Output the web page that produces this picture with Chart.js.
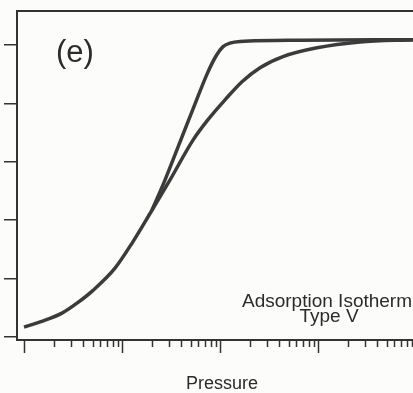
<!DOCTYPE html>
<html>
<head>
<meta charset="utf-8">
<script src="https://cdn.jsdelivr.net/npm/chart.js@4.4.0/dist/chart.umd.min.js"></script>
<style>
  html, body { margin: 0; padding: 0; background: #fcfcfb; }
  #wrap { position: relative; width: 413px; height: 393px; }
</style>
</head>
<body>
<div id="wrap"><canvas id="chart"></canvas></div>
<script>
// Adsorption branch (gradual) - pressure on log axis, amount adsorbed
const adsPressure = [1.0, 1.46, 2.44, 3.47, 5.06, 8.48, 12.9, 20.2, 30.9, 53, 75.4, 112.5, 167.6, 256, 439, 977, 2683, 9313];
const adsAmount   = [0.17, 0.26, 0.41, 0.58, 0.80, 1.18, 1.63, 2.17, 2.69, 3.37, 3.72, 4.06, 4.37, 4.61, 4.80, 4.95, 5.05, 5.09];

// Desorption branch (steep), joins the adsorption branch at low pressure
const desPressure = [20.2, 27.5, 39.1, 55.6, 73.7, 91.0, 107.4, 126, 160, 655, 9313];
const desAmount   = [2.17, 2.69, 3.34, 3.99, 4.50, 4.81, 4.97, 5.03, 5.06, 5.08, 5.09];

// Tick marks (no labels in the figure)
const yTicks = [0, 1, 2, 3, 4, 5];
const xMajorTicks = [1, 10, 100, 1000];
const xMinorTicks = [2, 3, 4, 5, 6, 7, 8, 9,
                     20, 30, 40, 50, 60, 70, 80, 90,
                     200, 300, 400, 500, 600, 700, 800, 900,
                     2000, 3000, 4000, 5000, 6000, 7000, 8000, 9000];

const ink = '#333333';
const curveColor = '#3b3b3b';

const toPoints = (xs, ys) => xs.map((x, i) => ({ x: x, y: ys[i] }));

// Draw log tick marks and the text annotations
const figurePlugin = {
    id: 'figure',
    afterDraw(chart) {
        const ctx = chart.ctx;
        const x = chart.scales.x;
        const top = x.top;

        ctx.save();
        ctx.strokeStyle = ink;
        ctx.lineWidth = 1.5;
        xMajorTicks.forEach(v => {
            const px = Math.round(x.getPixelForValue(v)) + 0.5;
            ctx.beginPath();
            ctx.moveTo(px, top);
            ctx.lineTo(px, top + 13);
            ctx.stroke();
        });
        xMinorTicks.forEach(v => {
            const px = Math.round(x.getPixelForValue(v)) + 0.5;
            if (px > chart.chartArea.right) return;
            ctx.beginPath();
            ctx.moveTo(px, top);
            ctx.lineTo(px, top + 7);
            ctx.stroke();
        });

        ctx.fillStyle = '#2b2b2b';
        ctx.textBaseline = 'alphabetic';

        ctx.font = '31px "Liberation Sans", Arial, sans-serif';
        ctx.textAlign = 'left';
        ctx.fillText('(e)', 56, 62);

        ctx.font = '19px "Liberation Sans", Arial, sans-serif';
        ctx.textAlign = 'center';
        ctx.fillText('Adsorption Isotherm', 327, 307);
        ctx.fillText('Type V', 329, 322);

        ctx.font = '18px "Liberation Sans", Arial, sans-serif';
        ctx.fillText('Pressure', 222, 389);
        ctx.restore();
    }
};

new Chart(document.getElementById('chart'), {
    type: 'line',
    data: {
        datasets: [
            {
                label: 'Adsorption',
                data: toPoints(adsPressure, adsAmount),
                borderColor: curveColor,
                borderWidth: 3.5,
                pointRadius: 0,
                cubicInterpolationMode: 'monotone',
                fill: false
            },
            {
                label: 'Desorption',
                data: toPoints(desPressure, desAmount),
                borderColor: curveColor,
                borderWidth: 3.5,
                pointRadius: 0,
                cubicInterpolationMode: 'monotone',
                fill: false
            }
        ]
    },
    options: {
        responsive: true,
        maintainAspectRatio: false,
        animation: false,
        layout: { padding: 0 },
        plugins: {
            legend: { display: false },
            tooltip: { enabled: false }
        },
        scales: {
            x: {
                type: 'logarithmic',
                position: 'bottom',
                min: 0.848,
                max: 9313,
                grid: { display: false },
                ticks: { display: false },
                border: { display: true, color: ink, width: 2 },
                afterFit: (scale) => { scale.height = 53; }
            },
            xTop: {
                type: 'logarithmic',
                position: 'top',
                min: 0.848,
                max: 9313,
                grid: { display: false },
                ticks: { display: false },
                border: { display: true, color: ink, width: 2 },
                afterFit: (scale) => { scale.height = 11; }
            },
            y: {
                type: 'linear',
                min: -0.05,
                max: 5.58,
                afterBuildTicks: (scale) => { scale.ticks = yTicks.map(v => ({ value: v })); },
                grid: {
                    display: true,
                    drawOnChartArea: false,
                    drawTicks: true,
                    tickLength: 13,
                    color: ink,
                    lineWidth: 1.5
                },
                ticks: { display: false },
                border: { display: true, color: ink, width: 2 },
                afterFit: (scale) => { scale.width = 17; }
            }
        }
    },
    plugins: [figurePlugin]
});
</script>
</body>
</html>
